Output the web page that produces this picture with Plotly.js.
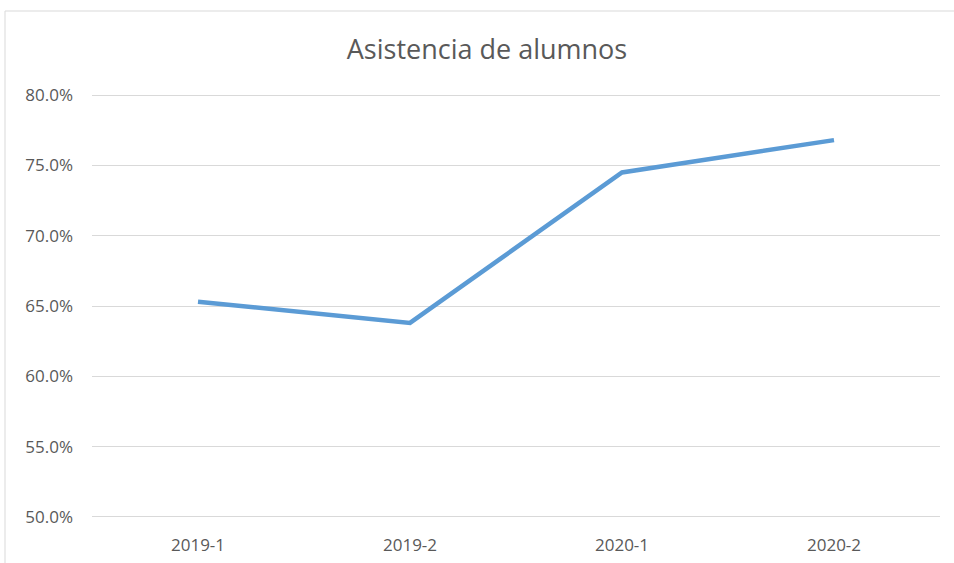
<!DOCTYPE html>
<html>
<head>
<meta charset="utf-8">
<script src="https://cdn.plot.ly/plotly-3.0.1.min.js"></script>
<style>html,body{margin:0;padding:0;background:#fff;}#chart{width:954px;height:563px;}</style>
</head>
<body>
<div id="chart"></div>
<script>
const categories = ["2019-1", "2019-2", "2020-1", "2020-2"];
const asistencia = [0.653, 0.638, 0.745, 0.768];
const yTicks = [0.50, 0.55, 0.60, 0.65, 0.70, 0.75, 0.80];

const fontFam = "'Open Sans', 'DejaVu Sans', sans-serif";
const L = 92, R = 940, T = 93, B = 519;
const pw = R - L, ph = B - T;

Plotly.newPlot('chart', [{
  type: 'scatter',
  mode: 'lines',
  x: categories,
  y: asistencia,
  line: {color: '#5B9BD5', width: 4.5},
  hoverinfo: 'x+y'
}], {
  width: 954, height: 563,
  margin: {l: L, r: 954 - R, t: T, b: 563 - B, pad: 0},
  paper_bgcolor: '#ffffff',
  plot_bgcolor: '#ffffff',
  showlegend: false,
  title: {text: 'Asistencia de alumnos', x: 487/954, xanchor: 'center', y: 1 - 50/563, yanchor: 'middle',
          font: {family: fontFam, size: 27, color: '#595959'}},
  xaxis: {
    type: 'category', range: [-0.5, 3.5], showgrid: false, zeroline: false,
    showline: false, ticks: '', ticklabelstandoff: 14,
    tickfont: {family: fontFam, size: 17, color: '#595959'}
  },
  yaxis: {
    range: [0.4985, 0.8015], tickvals: yTicks, tickformat: '.1%', showgrid: true,
    gridcolor: '#d9d9d9', gridwidth: 1, zeroline: false, showline: false, ticks: '',
    ticklabelstandoff: 18,
    tickfont: {family: fontFam, size: 17, color: '#595959'}
  },
  shapes: [{
    type: 'rect', xref: 'paper', yref: 'paper',
    x0: (5 - L) / pw, x1: (960 - L) / pw,
    y0: (B - 570) / ph, y1: (B - 11) / ph,
    line: {color: '#d9d9d9', width: 1}, fillcolor: 'rgba(0,0,0,0)', layer: 'below'
  }]
}, {displayModeBar: false});
</script>
</body>
</html>
